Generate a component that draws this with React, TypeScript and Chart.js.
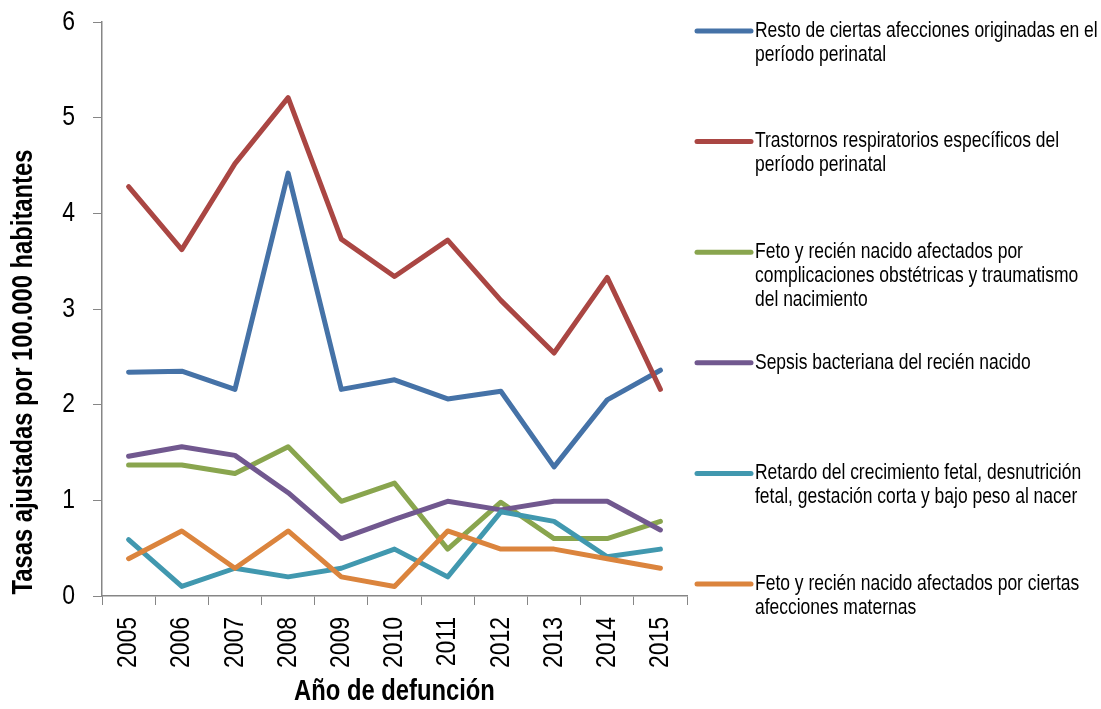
import React, { useEffect, useRef } from "react";
import { Chart, registerables } from "chart.js";

Chart.register(...registerables);

const years = ["2005", "2006", "2007", "2008", "2009", "2010", "2011", "2012", "2013", "2014", "2015"];

const resto = [2.34, 2.35, 2.16, 4.42, 2.16, 2.26, 2.06, 2.14, 1.35, 2.05, 2.36];
const trastornos = [4.28, 3.62, 4.52, 5.21, 3.73, 3.34, 3.72, 3.09, 2.54, 3.33, 2.16];
const complicaciones = [1.37, 1.37, 1.28, 1.56, 0.99, 1.18, 0.49, 0.98, 0.6, 0.6, 0.78];
const sepsis = [1.46, 1.56, 1.47, 1.08, 0.6, 0.8, 0.99, 0.9, 0.99, 0.99, 0.69];
const retardo = [0.59, 0.1, 0.29, 0.2, 0.29, 0.49, 0.2, 0.88, 0.78, 0.41, 0.49];
const maternas = [0.39, 0.68, 0.29, 0.68, 0.2, 0.1, 0.68, 0.49, 0.49, 0.39, 0.29];

const seriesNames = [
  "Resto de ciertas afecciones originadas en el período perinatal",
  "Trastornos respiratorios específicos del período perinatal",
  "Feto y recién nacido afectados por complicaciones obstétricas y traumatismo del nacimiento",
  "Sepsis bacteriana del recién nacido",
  "Retardo del crecimiento fetal, desnutrición fetal, gestación corta y bajo peso al nacer",
  "Feto y recién nacido afectados por ciertas afecciones maternas",
];

const legendLines = [
  ["Resto de ciertas afecciones originadas en el", "período perinatal"],
  ["Trastornos respiratorios específicos del", "período perinatal"],
  ["Feto y recién nacido afectados por", "complicaciones obstétricas y traumatismo", "del nacimiento"],
  ["Sepsis bacteriana del recién nacido"],
  ["Retardo del crecimiento fetal, desnutrición", "fetal, gestación corta y bajo peso al nacer"],
  ["Feto y recién nacido afectados por ciertas", "afecciones maternas"],
];

const xTitle = "Año de defunción";
const yTitle = "Tasas ajustadas por 100.000 habitantes";

const seriesValues = [resto, trastornos, complicaciones, sepsis, retardo, maternas];
const colors = ["#4572A7", "#AA4643", "#89A54E", "#71588F", "#4198AF", "#DB843D"];

const yMin = 0;
const yMax = 6;

const FONT = "'Liberation Sans', Arial, sans-serif";
const NARROW = 0.82;

function narrowText(
  ctx: CanvasRenderingContext2D,
  text: string,
  x: number,
  y: number,
  size: number,
  bold: boolean,
  align: CanvasTextAlign,
  rotation: number
) {
  ctx.save();
  ctx.translate(x, y);
  ctx.rotate(rotation);
  ctx.scale(NARROW, 1);
  ctx.font = `${bold ? "bold " : ""}${size}px ${FONT}`;
  ctx.fillStyle = "#000";
  ctx.textAlign = align;
  ctx.textBaseline = "middle";
  ctx.fillText(text, 0, 0);
  ctx.restore();
}

const textPlugin = {
  id: "narrowTexts",
  afterDraw(chart: any) {
    const ctx = chart.ctx as CanvasRenderingContext2D;
    const xs = chart.scales.x;
    const ys = chart.scales.y;
    const area = chart.chartArea;

    // y tick labels
    ys.ticks.forEach((t: any) => {
      narrowText(ctx, String(t.value), area.left - 27, ys.getPixelForValue(t.value), 28, false, "right", 0);
    });
    // x tick labels
    xs.ticks.forEach((t: any, i: number) => {
      narrowText(ctx, String(chart.data.labels[i]), xs.getPixelForTick(i), area.bottom + 21, 28, false, "right", -Math.PI / 2);
    });
    // titles
    narrowText(ctx, xTitle, (area.left + area.right) / 2, 692, 29, true, "center", 0);
    narrowText(ctx, yTitle, 24, 372, 29, true, "center", -Math.PI / 2);

    // legend
    const top = 31;
    const step = 110.6;
    const x1 = 697;
    const x2 = 751;
    const textX = 755;
    const lh = 24;
    ctx.save();
    chart.data.datasets.forEach((ds: any, i: number) => {
      const y = top + i * step;
      ctx.strokeStyle = ds.borderColor;
      ctx.lineWidth = 5;
      ctx.lineCap = "round";
      ctx.beginPath();
      ctx.moveTo(x1, y);
      ctx.lineTo(x2, y);
      ctx.stroke();
      legendLines[i].forEach((t, j) => narrowText(ctx, t, textX, y + j * lh, 21.3, false, "left", 0));
    });
    ctx.restore();
  },
};

export default function App() {
  const ref = useRef<HTMLCanvasElement | null>(null);

  useEffect(() => {
    if (!ref.current) return;
    const n = seriesValues.length;
    const chart = new Chart(ref.current, {
      type: "line",
      data: {
        labels: years,
        datasets: seriesValues.map((vals, i) => ({
          label: seriesNames[i],
          data: vals,
          borderColor: colors[i],
          backgroundColor: colors[i],
          borderWidth: 5,
          borderCapStyle: "round" as const,
          borderJoinStyle: "round" as const,
          pointRadius: 0,
          tension: 0,
          fill: false,
          order: n - i,
        })),
      },
      options: {
        responsive: false,
        animation: false,
        devicePixelRatio: 1,
        layout: { padding: { top: 22, right: 414, left: 0, bottom: 0 } },
        plugins: {
          legend: { display: false },
          tooltip: { enabled: false },
        },
        scales: {
          x: {
            offset: true,
            grid: {
              offset: true,
              drawOnChartArea: false,
              drawTicks: true,
              tickLength: 9,
              color: "#868686",
              lineWidth: 1,
            },
            border: { color: "#868686", width: 1.5 },
            ticks: { display: false, autoSkip: false },
            afterFit: (scale: any) => {
              scale.height = 113;
            },
          },
          y: {
            min: yMin,
            max: yMax,
            grid: {
              drawOnChartArea: false,
              drawTicks: true,
              tickLength: 9,
              color: "#868686",
              lineWidth: 1,
            },
            border: { color: "#868686", width: 1.5 },
            ticks: { display: false, stepSize: 1 },
            afterFit: (scale: any) => {
              scale.width = 102;
            },
          },
        },
      },
      plugins: [textPlugin],
    });
    return () => chart.destroy();
  }, []);

  return (
    <div style={{ position: "fixed", left: 0, top: 0, width: 1101, height: 709, background: "#fff" }}>
      <canvas ref={ref} width={1101} height={709} style={{ width: 1101, height: 709, display: "block" }} />
    </div>
  );
}
